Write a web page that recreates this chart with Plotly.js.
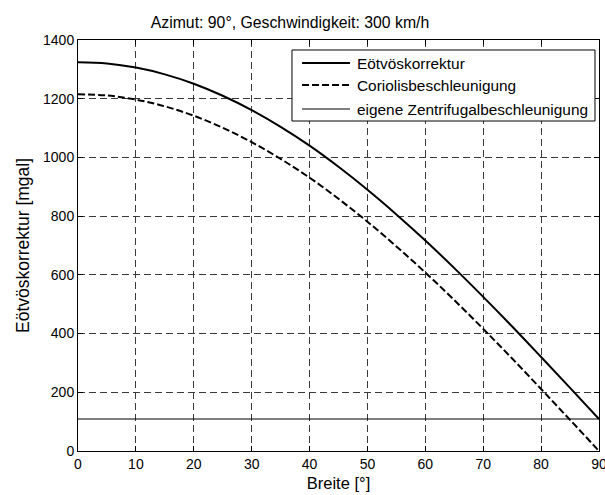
<!DOCTYPE html>
<html>
<head>
<meta charset="utf-8">
<script src="https://cdn.plot.ly/plotly-3.0.1.min.js"></script>
<style>
  html, body { margin: 0; padding: 0; background: #fff; }
  #chart { width: 605px; height: 495px; }
</style>
</head>
<body>
<div id="chart"></div>
<script>
// Geographic latitude [°]
const breite = [0, 5, 10, 15, 20, 25, 30, 35, 40, 45, 50, 55, 60, 65, 70, 75, 80, 85, 90];

// Total Eötvös correction [mgal]
const eotvos = [1324, 1320, 1306, 1283, 1251, 1210, 1161, 1104, 1040, 968, 890, 806, 717, 623, 525, 424, 320, 215, 109];

// Coriolis part [mgal]
const coriolis = [1215, 1211, 1197, 1174, 1142, 1101, 1052, 995, 931, 859, 781, 697, 608, 514, 416, 315, 211, 106, 0];

// Centrifugal part of the vehicle's own motion [mgal]
const zentrifugal = [109, 109, 109, 109, 109, 109, 109, 109, 109, 109, 109, 109, 109, 109, 109, 109, 109, 109, 109];

const seriesNames = ['Eötvöskorrektur', 'Coriolisbeschleunigung', 'eigene Zentrifugalbeschleunigung'];

const xTicks = [0, 10, 20, 30, 40, 50, 60, 70, 80, 90];
const yTicks = [0, 200, 400, 600, 800, 1000, 1200, 1400];

const FONT = 'Liberation Sans, Arial, sans-serif';

const lineStyles = [
  { color: '#000', width: 2, shape: 'spline' },
  { color: '#000', width: 2, dash: '7px,3px', shape: 'spline' },
  { color: '#000', width: 1.2 }
];

const traces = [
  { x: breite, y: eotvos, name: seriesNames[0], mode: 'lines', line: lineStyles[0] },
  { x: breite, y: coriolis, name: seriesNames[1], mode: 'lines', line: lineStyles[1] },
  { x: breite, y: zentrifugal, name: seriesNames[2], mode: 'lines', line: lineStyles[2] }
];

const axisCommon = {
  showline: true, linecolor: '#000', linewidth: 1, mirror: 'ticks',
  ticks: 'inside', ticklen: 5, tickcolor: '#000', tickwidth: 1,
  showgrid: true, gridcolor: '#3a3a3a', gridwidth: 1, griddash: '7px,4px',
  zeroline: false, ticklabeloverflow: 'allow',
  tickfont: { family: FONT, size: 14, color: '#000' }
};

// Boxed legend in the upper right of the plot area (paper coordinates)
const legendBox = { x0: 0.4107, x1: 0.9923, y0: 0.8029, y1: 0.9757 };
const legendRows = [0.944, 0.8905, 0.8321];
const sampleX = [0.430, 0.522];
const legendTextX = 0.5317;

const shapes = [
  {
    type: 'rect', xref: 'paper', yref: 'paper',
    x0: legendBox.x0, x1: legendBox.x1, y0: legendBox.y0, y1: legendBox.y1,
    line: { color: '#000', width: 1 }, fillcolor: '#fff', layer: 'above'
  }
];
const annotations = [];
seriesNames.forEach((name, i) => {
  shapes.push({
    type: 'line', xref: 'paper', yref: 'paper',
    x0: sampleX[0], x1: sampleX[1], y0: legendRows[i], y1: legendRows[i],
    line: { color: lineStyles[i].color, width: lineStyles[i].width, dash: lineStyles[i].dash || 'solid' },
    layer: 'above'
  });
  annotations.push({
    xref: 'paper', yref: 'paper', x: legendTextX, y: legendRows[i],
    xanchor: 'left', yanchor: 'middle', showarrow: false,
    text: name, font: { family: FONT, size: 15.4, color: '#000' }
  });
});

const layout = {
  width: 605, height: 495,
  margin: { l: 78, r: 6, t: 40, b: 44 },
  paper_bgcolor: '#fff', plot_bgcolor: '#fff',
  font: { family: FONT, color: '#000' },
  title: {
    text: 'Azimut: 90°, Geschwindigkeit: 300 km/h',
    font: { family: FONT, size: 15.8, color: '#000' },
    x: 290 / 605, xref: 'container', xanchor: 'center',
    y: 1 - 22.5 / 495, yref: 'container', yanchor: 'middle'
  },
  xaxis: Object.assign({}, axisCommon, {
    range: [0, 90], tickvals: xTicks, ticktext: xTicks.map(String),
    title: { text: 'Breite [°]', font: { family: FONT, size: 16.5, color: '#000' }, standoff: 6 }
  }),
  yaxis: Object.assign({}, axisCommon, {
    range: [0, 1400], tickvals: yTicks, ticktext: yTicks.map(String),
    title: { text: 'Eötvöskorrektur [mgal]', font: { family: FONT, size: 17.5, color: '#000' }, standoff: 8 }
  }),
  showlegend: false,
  shapes: shapes,
  annotations: annotations
};

Plotly.newPlot('chart', traces, layout, { displayModeBar: false, staticPlot: true });
</script>
</body>
</html>
